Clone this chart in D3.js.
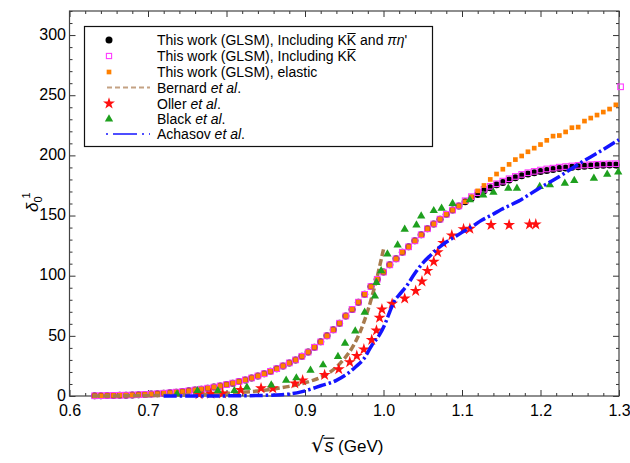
<!DOCTYPE html>
<html><head><meta charset="utf-8">
<script src="https://cdn.jsdelivr.net/npm/d3@7"></script>
<style>body{margin:0;background:#fff} svg{display:block;font-family:"Liberation Sans",Arial,sans-serif}</style>
</head><body><svg id="c" width="630" height="463"></svg>
<script>
// ---- data ----
const sqrtS = [0.632,0.640,0.648,0.656,0.664,0.672,0.680,0.688,0.696,0.704,0.712,0.720,0.728,0.736,0.744,0.752,0.760,0.768,0.776,0.784,0.792,0.800,0.808,0.816,0.824,0.832,0.840,0.848,0.856,0.864,0.872,0.880,0.888,0.896,0.904,0.912,0.920,0.928,0.936,0.944,0.952,0.960,0.968,0.976,0.984,0.992,1.000,1.008,1.016,1.024,1.032,1.040,1.048,1.056,1.064,1.072,1.080,1.088,1.096,1.104,1.112,1.120,1.128,1.136,1.144,1.152,1.160,1.168,1.176,1.184,1.192,1.200,1.208,1.216,1.224,1.232,1.240,1.248,1.256,1.264,1.272,1.280,1.288,1.296];
const glsmFull = [0.2,0.3,0.4,0.5,0.6,0.7,0.9,1.1,1.3,1.6,1.9,2.3,2.7,3.2,3.7,4.3,5.0,5.7,6.5,7.4,8.4,9.5,10.7,12.0,13.4,15.0,16.7,18.5,20.5,22.7,25.0,27.5,30.0,33.0,36.5,40.5,45.0,50.0,55.0,60.5,66.5,72.0,78.0,84.5,91.0,97.0,103.0,109.0,114.0,119.5,124.0,129.0,134.0,139.0,143.0,147.0,151.0,154.5,158.0,161.5,164.5,167.5,170.5,173.0,175.5,177.5,179.5,181.5,183.0,184.5,185.5,186.5,187.5,188.3,189.0,189.6,190.1,190.6,191.0,191.3,191.6,191.8,192.0,192.1];
const glsmKK = [0.2,0.3,0.4,0.5,0.6,0.7,0.9,1.1,1.3,1.6,1.9,2.3,2.7,3.2,3.7,4.3,5.0,5.7,6.5,7.4,8.4,9.5,10.7,12.0,13.4,15.0,16.7,18.5,20.5,22.7,25.0,27.5,30.0,33.0,36.5,40.5,45.0,50.0,55.0,60.5,66.5,72.0,78.0,84.5,91.0,97.0,103.0,109.0,114.0,119.5,124.0,129.0,134.0,139.0,143.0,147.0,151.0,154.5,158.0,162.3,165.7,169.0,171.8,174.3,176.4,178.6,180.6,182.5,184.2,185.6,186.7,187.8,188.7,189.4,190.2,190.7,191.2,191.7,192.0,192.3,192.6,192.8,193.0,193.1];
const glsmElastic = [0.2,0.3,0.4,0.5,0.6,0.7,0.9,1.1,1.3,1.6,1.9,2.3,2.7,3.2,3.7,4.3,5.0,5.7,6.5,7.4,8.4,9.5,10.7,12.0,13.4,15.0,16.7,18.5,20.5,22.7,25.0,27.5,30.0,33.0,36.5,40.5,45.0,50.0,55.0,60.5,66.5,72.0,78.0,84.5,91.0,97.0,103.0,109.0,114.0,119.5,124.0,129.0,134.0,139.0,143.0,147.0,151.0,154.5,158.0,161.5,165.5,170.5,175.0,180.0,184.5,188.5,192.5,196.5,199.5,203.0,206.0,209.0,212.5,216.0,216.5,219.5,223.0,223.5,228.5,231.0,233.5,236.0,238.5,242.0];
const kkEdgeX = [1.302];
const kkEdgeY = [257];
const bernardX = [0.63,0.66,0.70,0.74,0.78,0.80,0.82,0.84,0.86,0.88,0.90,0.91,0.92,0.93,0.94,0.95,0.96,0.97,0.98,0.99,1.00];
const bernardY = [0,0.1,0.3,0.7,1.5,2.2,3.0,4.2,5.8,8.0,11,13,15.5,19,24,31,40,53,71,94,122];
const achasovX = [0.72,0.75,0.80,0.84,0.87,0.895,0.92,0.94,0.955,0.965,0.975,0.985,0.995,1.002,1.008,1.014,1.02,1.03,1.04,1.05,1.06,1.07,1.08,1.09,1.10,1.113,1.125,1.138,1.15,1.172,1.198,1.223,1.249,1.275,1.30];
const achasovY = [0,0,0.1,0.4,1,3.4,8.5,13,19,24.5,31,42,51,60,70,79,84,92,102,110.5,117,123,128,132,136,141,146,150.5,155,162,172.5,182,193,203,213];
const ollerX = [0.765,0.78,0.795,0.818,0.844,0.859,0.887,0.897,0.925,0.943,0.957,0.966,0.975,0.985,0.991,0.995,0.998,1.011,1.027,1.041,1.049,1.056,1.064,1.069,1.076,1.087,1.102,1.11,1.137,1.16,1.186,1.194];
const ollerY = [1.5,2.0,2.2,5.0,6.4,6.4,10.5,13.0,17.5,22.3,28.2,33.4,38.8,46.5,54.5,65.0,72.0,76.7,81.0,87.4,95.3,104.0,111.6,119.5,127.3,133.5,138.7,139.0,142.1,142.1,142.7,142.7];
const blackX = [0.737,0.763,0.789,0.81,0.826,0.857,0.876,0.889,0.907,0.923,0.942,0.951,0.964,0.976,0.989,0.991,0.997,1.005,1.018,1.027,1.042,1.048,1.064,1.074,1.088,1.11,1.127,1.14,1.159,1.17,1.199,1.212,1.231,1.243,1.268,1.285,1.299];
const blackY = [1.7,4.4,4.4,4.4,7.2,9.1,13.0,15.0,21.3,25.8,32.7,43.8,54.0,69.6,83.1,94.2,104.0,118.0,125.5,138.6,142.0,149.6,154.0,156.0,160.0,163.0,167.0,169.3,172.6,172.6,174.0,175.4,176.8,179.0,181.0,184.3,186.0];
const xTicks = [0.6,0.7,0.8,0.9,1.0,1.1,1.2,1.3];
const yTicks = [0,50,100,150,200,250,300];

// ---- colours ----
const C = {black:"#000", pink:"#ff3cff", orange:"#ff8000", brown:"#a87a4c", red:"#ff1010", green:"#1ea01e", blue:"#1414ff"};

const svg = d3.select("#c");
const L = 69.5, R = 619, T = 11, B = 396;
const x = d3.scaleLinear().domain([0.6,1.3]).range([L,R]);
const y = d3.scaleLinear().domain([0,320]).range([B,T]);

// axes (ticks inward)
const minorX = d3.range(0.6,1.3001,0.02).filter(v=>Math.abs(v*10-Math.round(v*10))>1e-6);
const minorY = d3.range(0,321,10).filter(v=>v%50!==0);
function styleAxis(g){ g.select(".domain").remove(); g.selectAll("line").attr("stroke","#333"); g.selectAll("text").attr("font-size",16).attr("fill","#000").attr("font-family","'Liberation Sans',Arial,sans-serif"); }
svg.append("g").attr("transform",`translate(0,${B})`).call(d3.axisBottom(x).tickValues(xTicks).tickFormat(d3.format(".1f")).tickSize(-6).tickPadding(8.5)).call(styleAxis);
svg.append("g").attr("transform",`translate(0,${B})`).call(d3.axisBottom(x).tickValues(minorX).tickFormat("").tickSize(-3)).call(styleAxis);
svg.append("g").attr("transform",`translate(0,${T})`).call(d3.axisTop(x).tickValues(xTicks).tickFormat("").tickSize(-6)).call(styleAxis);
svg.append("g").attr("transform",`translate(0,${T})`).call(d3.axisTop(x).tickValues(minorX).tickFormat("").tickSize(-3)).call(styleAxis);
const yAx = svg.append("g").attr("transform",`translate(${L},0)`).call(d3.axisLeft(y).tickValues(yTicks).tickSize(-6).tickPadding(3.5)).call(styleAxis);
yAx.selectAll("text").attr("dy","0.26em");
svg.append("g").attr("transform",`translate(${L},0)`).call(d3.axisLeft(y).tickValues(minorY).tickFormat("").tickSize(-3)).call(styleAxis);
svg.append("g").attr("transform",`translate(${R},0)`).call(d3.axisRight(y).tickValues(yTicks).tickFormat("").tickSize(-6)).call(styleAxis);
svg.append("g").attr("transform",`translate(${R},0)`).call(d3.axisRight(y).tickValues(minorY).tickFormat("").tickSize(-3)).call(styleAxis);
svg.append("rect").attr("x",L).attr("y",T).attr("width",R-L).attr("height",B-T).attr("fill","none").attr("stroke","#444").attr("stroke-width",1.2);

// ---- series ----
const plot = svg.append("g");
const sq = (s)=>d3.symbol().type(d3.symbolSquare).size(s)();
const circleData = sqrtS.map((v,i)=>[v,glsmFull[i]]);
plot.selectAll(".c1").data(circleData).join("circle").attr("cx",d=>x(d[0])).attr("cy",d=>y(d[1])).attr("r",3.5).attr("fill",C.black);
const kkData = sqrtS.map((v,i)=>[v,glsmKK[i]]).concat(kkEdgeX.map((v,i)=>[v,kkEdgeY[i]]));
plot.selectAll(".p1").data(kkData).join("rect").attr("x",d=>x(d[0])-2.8).attr("y",d=>y(d[1])-2.8).attr("width",5.6).attr("height",5.6).attr("fill","none").attr("stroke",C.pink).attr("stroke-width",1.1);
const elData = sqrtS.map((v,i)=>[v,glsmElastic[i]]);
plot.selectAll(".o1").data(elData).join("path").attr("d",sq(22)).attr("transform",d=>`translate(${x(d[0])},${y(d[1])})`).attr("fill",C.orange);

const line = d3.line().x(d=>x(d[0])).y(d=>y(d[1])).curve(d3.curveMonotoneX);
plot.append("path").datum(bernardX.map((v,i)=>[v,bernardY[i]])).attr("d",line).attr("fill","none").attr("stroke",C.brown).attr("stroke-width",3.5).attr("stroke-dasharray","7,3");

const star = d3.symbol().type(d3.symbolStar).size(44)();
plot.selectAll(".s1").data(ollerX.map((v,i)=>[v,ollerY[i]])).join("path").attr("d",star).attr("transform",d=>`translate(${x(d[0])},${y(d[1])})`).attr("fill",C.red);
const tri = d3.symbol().type(d3.symbolTriangle).size(30)();
plot.selectAll(".t1").data(blackX.map((v,i)=>[v,blackY[i]])).join("path").attr("d",tri).attr("transform",d=>`translate(${x(d[0])},${y(d[1])})`).attr("fill",C.green);

plot.append("path").datum(achasovX.map((v,i)=>[v,achasovY[i]])).attr("d",line).attr("fill","none").attr("stroke",C.blue).attr("stroke-width",3.5).attr("stroke-dasharray","13,3,2.5,3");

// ---- legend ----
const lg = svg.append("g");
lg.append("rect").attr("x",84.5).attr("y",26.5).attr("width",348).attr("height",120).attr("fill","#fff").attr("stroke","#111").attr("stroke-width",1.2);
const rowY = [40,56,72,87.5,103.5,119,134];
const sx = 109, tx = 157;
function addText(yc, parts){
  const t = lg.append("text").attr("x",tx).attr("y",yc+5).attr("font-size",14).attr("fill","#000");
  const over = [];
  parts.forEach(p=>{
    const ts = t.append("tspan").text(p.t);
    if(p.i) ts.attr("font-style","italic");
    if(p.o) over.push(ts.node());
  });
  over.forEach(n=>{
    const e = n.getExtentOfChar(0);
    lg.append("line").attr("x1",e.x+0.5).attr("x2",e.x+e.width-0.5).attr("y1",e.y+1.5).attr("y2",e.y+1.5).attr("stroke","#000").attr("stroke-width",1);
  });
}
lg.append("circle").attr("cx",sx).attr("cy",rowY[0]).attr("r",3.5).attr("fill",C.black);
addText(rowY[0],[{t:"This work (GLSM), Including K"},{t:"K",o:true},{t:" and "},{t:"πη",i:true},{t:"'"}]);
lg.append("rect").attr("x",sx-2.6).attr("y",rowY[1]-2.6).attr("width",5.2).attr("height",5.2).attr("fill","none").attr("stroke",C.pink).attr("stroke-width",1.1);
addText(rowY[1],[{t:"This work (GLSM), Including K"},{t:"K",o:true}]);
lg.append("path").attr("d",sq(22)).attr("transform",`translate(${sx},${rowY[2]})`).attr("fill",C.orange);
addText(rowY[2],[{t:"This work (GLSM), elastic"}]);
lg.append("line").attr("x1",107).attr("x2",150).attr("y1",rowY[3]).attr("y2",rowY[3]).attr("stroke","#c4a283").attr("stroke-width",2).attr("stroke-dasharray","5,3");
addText(rowY[3],[{t:"Bernard "},{t:"et al",i:true},{t:"."}]);
lg.append("path").attr("d",star).attr("transform",`translate(${sx},${rowY[4]})`).attr("fill",C.red);
addText(rowY[4],[{t:"Oller "},{t:"et al",i:true},{t:"."}]);
lg.append("path").attr("d",tri).attr("transform",`translate(${sx},${rowY[5]})`).attr("fill",C.green);
addText(rowY[5],[{t:"Black "},{t:"et al",i:true},{t:"."}]);
lg.append("line").attr("x1",106).attr("x2",150).attr("y1",rowY[6]).attr("y2",rowY[6]).attr("stroke",C.blue).attr("stroke-width",1.3).attr("stroke-dasharray","2,5,24,5,2,5");
addText(rowY[6],[{t:"Achasov "},{t:"et al",i:true},{t:"."}]);

// ---- axis titles ----
const xt = svg.append("text").attr("x",311).attr("y",452).attr("font-size",17).attr("fill","#000");
xt.append("tspan").attr("font-family","'DejaVu Sans'").attr("font-size",21).text("√");
const sT = xt.append("tspan").attr("font-style","italic").attr("font-size",18).text("s");
xt.append("tspan").text("  (GeV)");
{
  const e = sT.node().getExtentOfChar(0);
  svg.append("line").attr("x1",e.x-1).attr("x2",e.x+e.width+1).attr("y1",e.y+2.2).attr("y2",e.y+2.2).attr("stroke","#000").attr("stroke-width",1.2);
}
const yt = svg.append("text").attr("transform","translate(38,212) rotate(-90)").attr("font-size",17).attr("fill","#000");
yt.append("tspan").attr("font-style","italic").text("δ");
yt.append("tspan").attr("font-size",11).attr("dy",4).text("0");
yt.append("tspan").attr("font-size",11).attr("dx",-2).attr("dy",-12).text("1");
</script></body></html>
